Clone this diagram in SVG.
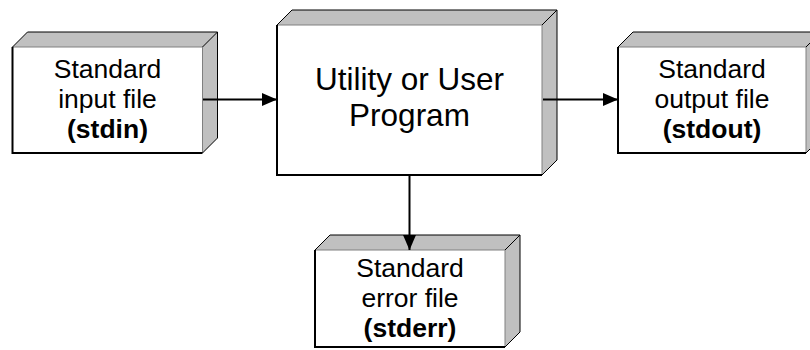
<svg xmlns="http://www.w3.org/2000/svg" width="810" height="350" viewBox="0 0 810 350">
<style>
.face{fill:#c0c0c0;stroke:none}
.front{fill:#ffffff;stroke:none}
.outline{fill:none;stroke:#000;stroke-width:1}
.inner{fill:none;stroke:#808080;stroke-width:1}
.thick{fill:none;stroke:#000;stroke-width:2}
.t{font-family:"Liberation Sans",Arial,sans-serif;font-size:26.5px;fill:#000;text-anchor:middle}
.b{font-weight:bold}
.big{font-size:31.5px}
.conn{stroke:#000;stroke-width:2;fill:none}
</style>
<defs>
<marker id="arr" markerUnits="userSpaceOnUse" markerWidth="16" markerHeight="14" refX="15" refY="6.5" orient="auto">
<path d="M0,0 L15,6.5 L0,13 Z" fill="#000"/>
</marker>
</defs>
<rect width="810" height="350" fill="#fff"/>
<g id="stdin">
<polygon class="face" points="12.5,47 27.5,32 217.5,32 217.5,138 202.5,153 202.5,47"/>
<rect class="front" x="12.5" y="47" width="190" height="106"/>
<path class="inner" d="M12.5,47 H202.5 V153"/>
<path class="outline" d="M12.5,47 L27.5,32 H217.5 V138 L202.5,153 M202.5,47 L217.5,32"/>
<path class="thick" d="M12.5,47 V153 H202.5"/>
<text class="t" x="107.5" y="78">Standard</text>
<text class="t" x="107.5" y="108">input file</text>
<text class="t b" x="107.5" y="138">(stdin)</text>
</g>
<g id="program">
<polygon class="face" points="277,25 292,10 557,10 557,160 542,175 542,25"/>
<rect class="front" x="277" y="25" width="265" height="150"/>
<path class="inner" d="M277,25 H542 V175"/>
<path class="outline" d="M277,25 L292,10 H557 V160 L542,175 M542,25 L557,10"/>
<path class="thick" d="M277,25 V175 H542"/>
<text class="t big" x="409.5" y="90">Utility or User</text>
<text class="t big" x="409.5" y="126">Program</text>
</g>
<g id="stdout">
<polygon class="face" points="618,47 633,32 821,32 821,138 806,153 806,47"/>
<rect class="front" x="618" y="47" width="188" height="106"/>
<path class="inner" d="M618,47 H806 V153"/>
<path class="outline" d="M618,47 L633,32 H821 V138 L806,153 M806,47 L821,32"/>
<path class="thick" d="M618,47 V153 H806"/>
<text class="t" x="712" y="78">Standard</text>
<text class="t" x="712" y="108">output file</text>
<text class="t b" x="712" y="138">(stdout)</text>
</g>
<g id="stderr">
<polygon class="face" points="315,250 330,235 520,235 520,332 505,347 505,250"/>
<rect class="front" x="315" y="250" width="190" height="97"/>
<path class="inner" d="M315,250 H505 V347"/>
<path class="outline" d="M315,250 L330,235 H520 V332 L505,347 M505,250 L520,235"/>
<path class="thick" d="M315,250 V347 H505"/>
<text class="t" x="410" y="277">Standard</text>
<text class="t" x="410" y="307">error file</text>
<text class="t b" x="410" y="337">(stderr)</text>
</g>
<g id="connectors">
<line class="conn" x1="203" y1="99.5" x2="277" y2="99.5" marker-end="url(#arr)"/>
<line class="conn" x1="543" y1="99.5" x2="618" y2="99.5" marker-end="url(#arr)"/>
<line class="conn" x1="409.5" y1="176" x2="409.5" y2="250" marker-end="url(#arr)"/>
</g>
</svg>
